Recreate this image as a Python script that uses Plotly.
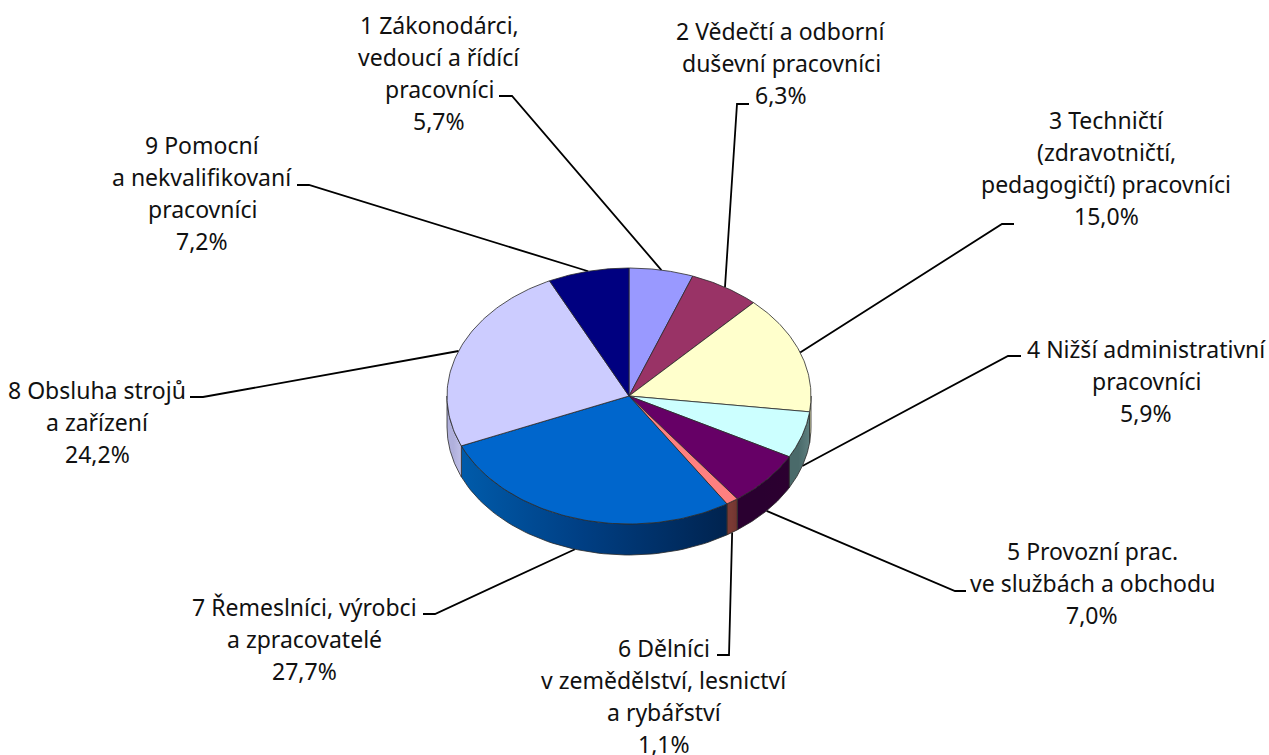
import numpy as np
import plotly.graph_objects as go

categories = ["1 Zákonodárci,<br>vedoucí a řídící<br>pracovníci",
              "2 Vědečtí a odborní<br>duševní pracovníci",
              "3 Techničtí<br>(zdravotničtí,<br>pedagogičtí) pracovníci",
              "4 Nižší administrativní<br>pracovníci",
              "5 Provozní prac.<br>ve službách a obchodu",
              "6 Dělníci<br>v zemědělství, lesnictví<br>a rybářství",
              "7 Řemeslníci, výrobci<br>a zpracovatelé",
              "8 Obsluha strojů<br>a zařízení",
              "9 Pomocní<br>a nekvalifikovaní<br>pracovníci"]
values = [5.7, 6.3, 15.0, 5.9, 7.0, 1.1, 27.7, 24.2, 7.2]
colors = ["#9999FF", "#993366", "#FFFFCC", "#CCFFFF", "#660066",
          "#FF8080", "#0066CC", "#CCCCFF", "#000080"]
side_colors = [("#9999FF", "#9999FF"), ("#993366", "#993366"), ("#FFFFCC", "#FFFFCC"),
               ("#4A6A6A", "#5E7F7F"), ("#2A0030", "#2C0030"), ("#7A3A34", "#703430"),
               ("#005BAA", "#00234F"), ("#B0B0DC", "#C0C0E8"), ("#000080", "#000080")]
label_centers = [439, 781, 1106, 1146, 1092, 664, 304, 97, 202]
label_tops = [25, 31, 120, 349, 551, 648, 607, 390, 145]
elbows = [(499, 96, 512), (749, 104, 737), (1014, 224, 1002), (1021, 356, 1008),
          (966, 591, 955), (717, 655, 729), (423, 614, 435), (190, 397, 203), (297, 185, 309)]

CX, CY, RX, RY, DEPTH = 629, 396, 182, 128, 31
LINE_H = 32
FONT = dict(family="Noto Sans", size=23, color="#111111")
OUTLINE = dict(color="#2a2a2a", width=0.8)

def pt(deg):
    r = np.radians(deg)
    return CX + RX * np.sin(r), CY - RY * np.cos(r)

total = sum(values)
edges = np.concatenate([[0], np.cumsum(values)]) / total * 360
fig = go.Figure()

# leader lines
for i, (v, e) in enumerate(zip(values, elbows)):
    mid = (edges[i] + edges[i + 1]) / 2
    x, y = pt(mid)
    if 90 < mid < 270:
        y += DEPTH
    fig.add_trace(go.Scatter(x=[e[0], e[2], x], y=[e[1], e[1], y], mode="lines",
                             line=dict(color="black", width=1.8), hoverinfo="skip"))

# sides
for i in range(len(values)):
    a, b = max(edges[i], 90), min(edges[i + 1], 270)
    if b <= a:
        continue
    t = np.linspace(a, b, 60)
    xs, ys = pt(t)
    px = np.concatenate([xs, xs[::-1], xs[:1]])
    py = np.concatenate([ys, ys[::-1] + DEPTH, ys[:1]])
    c0, c1 = side_colors[i]
    fig.add_trace(go.Scatter(x=px, y=py, mode="lines", line=OUTLINE, fill="toself",
                             fillgradient=dict(type="horizontal",
                                               colorscale=[[0, c0 if i != 6 else "#005BAA"],
                                                           [0.45, "#003F84" if i == 6 else c0],
                                                           [1, c1]]),
                             hoverinfo="skip"))

# top faces
for i, c in enumerate(colors):
    t = np.linspace(edges[i], edges[i + 1], 80)
    xs, ys = pt(t)
    fig.add_trace(go.Scatter(x=np.concatenate([[CX], xs, [CX]]), y=np.concatenate([[CY], ys, [CY]]),
                             mode="lines", line=OUTLINE, fill="toself", fillcolor=c,
                             hoverinfo="text", text=f"{categories[i]}: {values[i]}"))

# labels
for name, v, cx, top in zip(categories, values, label_centers, label_tops):
    lines = name.split("<br>") + [f"{v:.1f}".replace(".", ",") + "%"]
    for k, line in enumerate(lines):
        fig.add_annotation(x=cx, y=top + k * LINE_H, text=line, showarrow=False,
                           xanchor="center", yanchor="middle", font=FONT)

fig.update_layout(width=1269, height=755, margin=dict(l=0, r=0, t=0, b=0),
                  showlegend=False, paper_bgcolor="white", plot_bgcolor="white",
                  xaxis=dict(range=[0, 1269], visible=False, fixedrange=True),
                  yaxis=dict(range=[755, 0], visible=False, fixedrange=True))
fig.write_html("out.html", config=dict(displayModeBar=False),
               post_script="document.body.style.margin='0';document.body.style.overflow='hidden';")
